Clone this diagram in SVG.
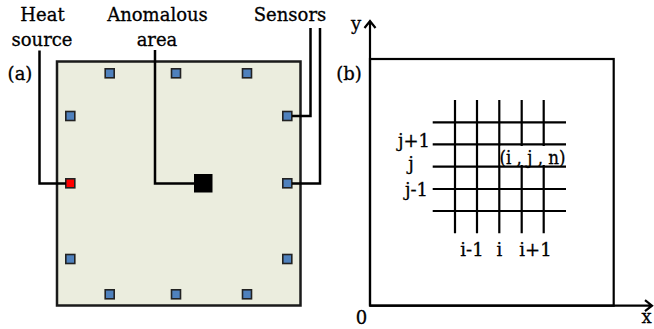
<svg xmlns="http://www.w3.org/2000/svg" width="654" height="329" viewBox="0 0 654 329">
<style>
text{font-family:"DejaVu Serif","Liberation Serif",serif;font-size:18px;fill:#000;stroke:#000;stroke-width:0.3}
.m{text-anchor:middle}
.e{text-anchor:end}
.s{fill:#4F81BD;stroke:#222;stroke-width:1.6}
.ln{fill:none;stroke:#000;stroke-width:2.5}
.g{fill:none;stroke:#000;stroke-width:2.2}
</style>
<rect width="654" height="329" fill="#fff"/>
<g id="panel-a">
<rect x="57" y="61.5" width="243.5" height="244" fill="#EBEDDE" stroke="#1a1a1a" stroke-width="2.5"/>
<text x="20" y="80" class="m">(a)</text>
</g>
<g id="sensors">
<rect class="s" x="105.2" y="68.8" width="9" height="9"/>
<rect class="s" x="171.5" y="68.8" width="9" height="9"/>
<rect class="s" x="242.5" y="68.8" width="9" height="9"/>
<rect class="s" x="65.8" y="111.5" width="9" height="9"/>
<rect class="s" x="65.8" y="254.5" width="9" height="9"/>
<rect class="s" x="282.8" y="111.5" width="9" height="9"/>
<rect class="s" x="282.8" y="178.8" width="9" height="9"/>
<rect class="s" x="282.8" y="254.5" width="9" height="9"/>
<rect class="s" x="105.2" y="289.8" width="9" height="9"/>
<rect class="s" x="171.5" y="289.8" width="9" height="9"/>
<rect class="s" x="242.5" y="289.8" width="9" height="9"/>
<text x="290" y="21" class="m">Sensors</text>
</g>
<g id="heat-source">
<rect x="65.8" y="178.8" width="9" height="9" fill="#FF0000" stroke="#222" stroke-width="1.6"/>
<text x="42.5" y="21" class="m">Heat</text>
<text x="42" y="46" class="m">source</text>
</g>
<g id="anomalous-area">
<rect x="194" y="174" width="18.5" height="18.5" fill="#000"/>
<text x="157.5" y="21" class="m">Anomalous</text>
<text x="157" y="46" class="m">area</text>
</g>
<g id="connectors">
<path class="ln" d="M39.5,50.5 V183.5 H66"/>
<path class="ln" d="M155,50 V183.5 H194"/>
<path class="ln" d="M310.5,28 V116 H292"/>
<path class="ln" d="M320,28 V183.5 H292"/>
</g>
<g id="panel-b">
<rect x="370" y="59" width="243.7" height="246.7" fill="none" stroke="#000" stroke-width="2.2"/>
<path class="g" d="M370,305.7 V21 M364.5,28 L370,21 L375.5,28"/>
<path class="g" d="M370,305.7 H652 M645,300.2 L652,305.7 L645,311.2"/>
<text x="356" y="30" class="m">y</text>
<text x="349" y="80" class="m">(b)</text>
<text x="361.5" y="324" class="m">0</text>
<text x="646.5" y="322.5" class="m">x</text>
</g>
<g id="grid">
<path class="g" d="M455,100 V233.3 M477,100 V233.3 M499.3,100 V233.3 M521.7,100 V233.3 M543.7,100 V233.3"/>
<path class="g" d="M432.7,122.3 H566 M432.7,144.3 H566 M432.7,166.7 H566 M432.7,189 H566 M432.7,211 H566"/>
<rect x="500.5" y="146" width="65" height="19" fill="#fff"/>
<text x="532.5" y="163.5" class="m" textLength="66" lengthAdjust="spacingAndGlyphs">(i , j , n)</text>
<text x="430" y="147" class="e">j+1</text>
<text x="411" y="170" class="m">j</text>
<text x="428" y="196" class="e">j-1</text>
<text x="472" y="256" class="m">i-1</text>
<text x="499.3" y="256" class="m">i</text>
<text x="535.5" y="256" class="m">i+1</text>
</g>
</svg>
